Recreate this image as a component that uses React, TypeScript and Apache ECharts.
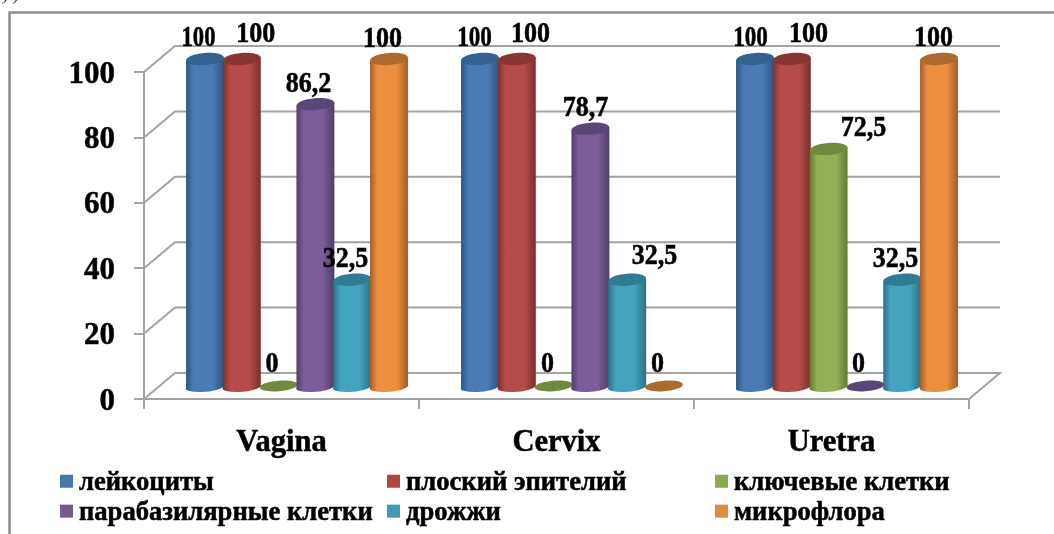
import React, { useEffect, useRef } from "react";
import * as echarts from "echarts";

const categories = ["Vagina", "Cervix", "Uretra"];
const yTicks = [0, 20, 40, 60, 80, 100];

const seriesNames = [
  "лейкоциты",
  "плоский эпителий",
  "ключевые клетки",
  "парабазилярные клетки",
  "дрожжи",
  "микрофлора",
];

const leukocytes = [100, 100, 100];
const epithelium = [100, 100, 100];
const clueCells = [0, 0, 72.5];
const parabasal = [86.2, 78.7, 0];
const yeast = [32.5, 32.5, 32.5];
const microflora = [100, 0, 100];
const seriesValues = [leukocytes, epithelium, clueCells, parabasal, yeast, microflora];

// Palette: flat colour, edge shade, middle shade, cap shade
const palette = [
  ["#4676ae", "#2e5380", "#4a7bb5", "#34618f"],
  ["#ae4744", "#7a2f2d", "#b54c49", "#8a3533"],
  ["#8aa84f", "#627a35", "#94b056", "#6f8a40"],
  ["#75598f", "#4f3d68", "#7c5c99", "#5a4578"],
  ["#3f9ab4", "#2a7086", "#44a3bf", "#2f7c92"],
  ["#e08a42", "#a05d25", "#ee8f40", "#ad6a2e"],
];

// Hand placement of the value labels, relative to each cylinder's cap: [dx, dy, scaleX]
const labelPlacement = [
  [[-6.5, -22.5, 0.87], [-5.5, -22.5, 0.89], [-4.5, -22.5, 0.89]],
  [[14, -26.5, 1], [13.7, -26.5, 1], [16.7, -26.5, 1]],
  [[-6.6, -23, 1], [-6, -23, 1], [34.9, -22, 1]],
  [[-7, -21.6, 1], [-5, -22, 1], [-7, -23, 1]],
  [[-6.7, -22, 1], [27.3, -25, 1], [-6.7, -22, 1]],
  [[-6.5, -21.5, 1], [-6.5, -23, 1], [-5.5, -22.5, 1]],
];

const FONT = '"Liberation Serif", "Times New Roman", serif';
const GRAY = "#a3a3a3";
const DEPTH_X = 31;
const DEPTH_Y = -26;
const TILT = 0.08;

function wallItem(params: any, api: any) {
  const t = api.value(1);
  const pt = api.coord([0, t]);
  const cs = params.coordSys;
  const x0 = cs.x;
  const x1 = cs.x + cs.width;
  const y = pt[1];
  const points =
    t === 0
      ? [[x0, y], [x0 + DEPTH_X, y + DEPTH_Y], [x1 + DEPTH_X, y + DEPTH_Y], [x1, y]]
      : [[x0, y], [x0 + DEPTH_X, y + DEPTH_Y], [x1 + DEPTH_X, y + DEPTH_Y]];
  return {
    type: "polyline",
    shape: { points },
    style: { fill: "none", stroke: GRAY, lineWidth: 2 },
  };
}

function cylinderRenderer(seriesIndex: number) {
  const [, edge, mid, cap] = palette[seriesIndex];
  return (params: any, api: any) => {
    const catIdx = api.value(0);
    const val = api.value(1);
    const top = api.coord([catIdx, val]);
    const base = api.coord([catIdx, 0]);
    const band = api.size([1, 0])[0];
    const step = band * 0.1338;
    const rx = step * 0.515;
    const ry = val > 0 ? 6 : 5.2;
    const baseRy = 5;
    const cx = top[0] + DEPTH_X / 2 + (seriesIndex - 2.5) * step;
    const cy = top[1] + DEPTH_Y / 2;
    const by = base[1] + DEPTH_Y / 2;
    const place = labelPlacement[seriesIndex][params.dataIndex];
    const label = {
      type: "text",
      x: cx + place[0],
      y: cy + place[1],
      scaleX: place[2],
      scaleY: 1.1,
      z2: 20,
      style: {
        text: String(val).replace(".", ","),
        font: `bold 26px ${FONT}`,
        fill: "#000",
        stroke: "#000",
        lineWidth: 0.5,
        align: "center",
        verticalAlign: "middle",
      },
    };
    const capShape = {
      type: "ellipse",
      x: cx,
      y: cy,
      rotation: TILT,
      z2: 2,
      shape: { cx: 0, cy: 0, rx, ry },
      style: { fill: cap },
    };
    const children: any[] = [];
    if (val > 0) {
      const dy = rx * Math.sin(TILT);
      const d =
        `M${cx - rx} ${cy + dy}L${cx - rx} ${by + dy}` +
        `A${rx} ${baseRy} ${(-TILT * 180) / Math.PI} 0 0 ${cx + rx} ${by - dy}` +
        `L${cx + rx} ${cy - dy}Z`;
      children.push({
        type: "path",
        z2: 1,
        shape: { pathData: d },
        style: {
          fill: new echarts.graphic.LinearGradient(0, 0, 1, 0, [
            { offset: 0, color: edge },
            { offset: 0.2, color: mid },
            { offset: 0.7, color: mid },
            { offset: 1, color: edge },
          ]),
        },
      });
    }
    children.push(capShape, label);
    return { type: "group", children };
  };
}

export default function App() {
  const ref = useRef<HTMLDivElement>(null);
  useEffect(() => {
    document.body.style.margin = "0";
    const chart = echarts.init(ref.current!, null, { renderer: "svg" });
    const legendBase = {
      orient: "vertical" as const,
      top: 467.5,
      padding: 0,
      itemWidth: 13,
      itemHeight: 13,
      itemGap: 2.4,
      icon: "rect",
      selectedMode: false,
      textStyle: {
        fontFamily: FONT,
        fontWeight: "bold" as const,
        fontSize: 26.6,
        color: "#000",
        padding: [0, 0, 0, 1],
        textBorderColor: "#000",
        textBorderWidth: 0.5,
      },
    };
    const axisText = {
      fontFamily: FONT,
      fontWeight: "bold" as const,
      color: "#000",
      textBorderColor: "#000",
      textBorderWidth: 0.5,
    };
    chart.setOption({
      animation: false,
      backgroundColor: "#fff",
      grid: { left: 144, right: 85, top: 72, bottom: 135, containLabel: false },
      legend: [
        { ...legendBase, left: 60, data: [seriesNames[0], seriesNames[3]] },
        { ...legendBase, left: 387, data: [seriesNames[1], seriesNames[4]] },
        { ...legendBase, left: 715, data: [seriesNames[2], seriesNames[5]] },
      ],
      xAxis: {
        type: "category",
        data: categories,
        boundaryGap: true,
        axisLine: { lineStyle: { color: GRAY, width: 2 } },
        axisTick: { show: true, length: 10, alignWithLabel: false, lineStyle: { color: GRAY, width: 2 } },
        axisLabel: { ...axisText, fontSize: 30.5, margin: 26 },
      },
      yAxis: {
        type: "value",
        min: 0,
        max: 100,
        interval: 20,
        splitLine: { show: false },
        axisLine: { show: true, lineStyle: { color: GRAY, width: 2 } },
        axisTick: { show: true, length: 10, lineStyle: { color: GRAY, width: 2 } },
        axisLabel: { ...axisText, fontSize: 31, margin: 29, padding: [8, 0, 0, 0] },
      },
      graphic: [
        {
          type: "polyline",
          silent: true,
          shape: { points: [[9.5, 534], [9.5, 12.5], [1054, 12.5]] },
          style: { fill: "none", stroke: "#8e8e8e", lineWidth: 2.5 },
        },
        {
          type: "text",
          x: 3,
          y: -15,
          silent: true,
          style: { text: ") )", font: `italic 18px ${FONT}`, fill: "#000" },
        },
      ],
      series: [
        {
          type: "custom",
          silent: true,
          z: 1,
          clip: false,
          renderItem: wallItem,
          data: yTicks.map((t) => [0, t]),
          encode: { x: 0, y: 1 },
        },
        ...seriesNames.map((name, i) => ({
          type: "custom",
          name,
          silent: true,
          z: 3 + i,
          clip: false,
          itemStyle: { color: palette[i][0] },
          renderItem: cylinderRenderer(i),
          data: seriesValues[i].map((v, c) => [c, v]),
          encode: { x: 0, y: 1 },
        })),
      ],
    });
    return () => chart.dispose();
  }, []);
  return (
    <div
      ref={ref}
      style={{ position: "absolute", left: 0, top: 0, width: 1054, height: 534, filter: "blur(0.5px)" }}
    />
  );
}
